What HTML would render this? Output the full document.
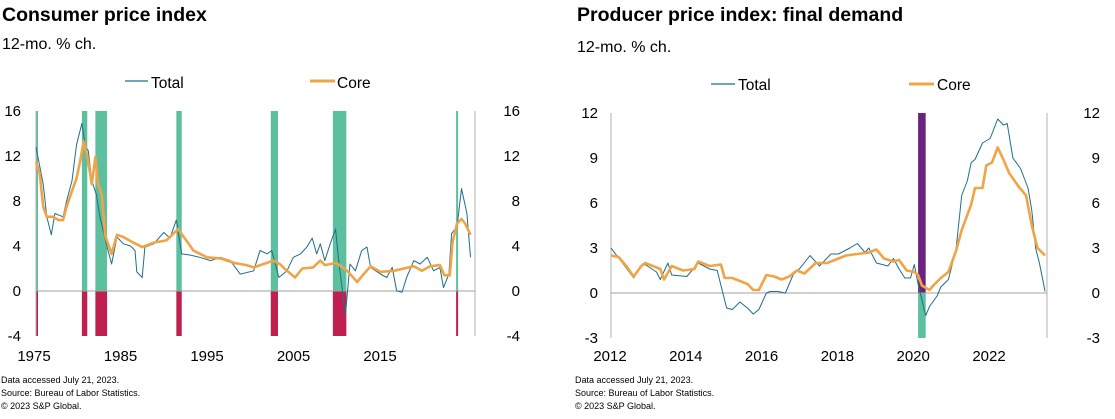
<!DOCTYPE html>
<html><head><meta charset="utf-8"><style>
body{margin:0;background:#fff;width:1115px;height:419px;overflow:hidden}
svg{display:block;font-family:"Liberation Sans",Arial,sans-serif}
</style></head><body>
<svg id="c" width="1115" height="419">
<text x="2" y="21" font-size="19.5" font-weight="bold">Consumer price index</text>
<text x="2" y="49" font-size="16">12-mo. % ch.</text>
<line x1="125" y1="81" x2="148" y2="81" stroke="#1f6e8c" stroke-width="1.2"/>
<text x="151" y="88" font-size="15.5">Total</text>
<line x1="310" y1="81" x2="335" y2="81" stroke="#f0a445" stroke-width="3"/>
<text x="337" y="88" font-size="15.5">Core</text>
<text x="577" y="21" font-size="19.5" font-weight="bold">Producer price index: final demand</text>
<text x="577" y="52" font-size="16">12-mo. % ch.</text>
<line x1="711" y1="84" x2="735" y2="84" stroke="#1f6e8c" stroke-width="1.2"/>
<text x="738" y="90" font-size="15.5">Total</text>
<line x1="909" y1="84" x2="934" y2="84" stroke="#f0a445" stroke-width="3"/>
<text x="937" y="90" font-size="15.5">Core</text>
<g font-size="9">
<text x="1" y="383">Data accessed July 21, 2023.</text>
<text x="1" y="396">Source: Bureau of Labor Statistics.</text>
<text x="1" y="409">© 2023 S&amp;P Global.</text></g>
<g font-size="9">
<text x="575" y="383">Data accessed July 21, 2023.</text>
<text x="575" y="396">Source: Bureau of Labor Statistics.</text>
<text x="575" y="409">© 2023 S&amp;P Global.</text></g>
</svg>
<script>
// ---- CPI data ----
const cpiTotalX=[1975.0,1975.8,1976.2,1976.7,1977.1,1978.0,1978.4,1979.0,1979.5,1980.1,1980.5,1980.8,1981.2,1981.7,1982.1,1982.9,1983.4,1984.0,1984.7,1985.5,1986.0,1986.2,1986.8,1987.1,1988.1,1989.2,1989.9,1990.6,1991.2,1992.1,1993.2,1994.4,1995.5,1996.6,1997.7,1999.2,1999.9,2000.7,2001.2,2002.0,2002.9,2003.6,2004.4,2005.1,2005.7,2006.2,2006.6,2007.1,2007.7,2008.3,2008.6,2009.0,2009.4,2009.9,2010.5,2011.2,2011.8,2012.2,2013.3,2014.0,2014.6,2015.1,2015.7,2016.2,2017.0,2017.7,2018.5,2019.2,2019.9,2020.3,2020.9,2021.2,2021.8,2022.3,2022.9,2023.3];
const cpiTotalY=[12.8,9.5,6.6,5.0,6.9,6.6,8.0,9.8,13.0,14.9,12.8,12.5,9.8,8.6,6.6,3.9,2.4,4.8,4.2,4.0,3.6,1.7,1.2,3.9,4.2,5.2,4.7,6.3,3.3,3.2,3.0,2.7,3.0,2.7,1.5,1.8,3.6,3.3,3.6,1.2,1.8,3.0,3.3,3.9,4.7,3.3,4.2,2.7,4.2,5.5,3.0,0.4,-2.0,2.4,1.8,3.6,3.9,2.1,1.5,1.2,2.1,0.0,-0.1,1.2,2.7,2.4,3.0,1.8,2.1,0.3,1.5,5.1,5.7,9.1,6.9,3.0];
const cpiCoreX=[1975,1975.4,1975.8,1976.2,1976.9,1977.5,1978,1978.4,1979,1979.5,1979.9,1980.3,1980.7,1981.2,1981.6,1981.9,1982.3,1982.7,1983.4,1984.0,1984.7,1985.8,1986.8,1988.1,1989.5,1990.8,1991.8,1992.5,1994.0,1995.5,1997.0,1998.4,1999.2,2000.3,2001.4,2002.1,2002.9,2003.8,2004.6,2005.8,2006.6,2007.1,2008.4,2009.6,2010.7,2011.2,2012.2,2013.3,2014.8,2015.9,2017.0,2017.9,2018.8,2019.9,2020.4,2021.0,2021.3,2021.8,2022.3,2022.7,2023.3];
const cpiCoreY=[11.5,10.5,7.5,6.6,6.6,6.3,6.3,7.5,8.9,10,11.5,13.3,12,9.5,11.9,9.5,8.6,4.9,3.3,5.0,4.8,4.3,3.9,4.3,4.5,5.5,4.4,3.6,3.0,2.9,2.5,2.3,2.1,2.4,2.7,2.4,1.8,1.2,2.0,2.1,2.7,2.3,2.5,1.8,0.8,1.3,2.2,1.7,1.8,2.0,2.2,1.8,2.2,2.3,1.4,1.4,4.3,6.0,6.4,6.0,5.0];
const cpiRecStart=[1975.0,1980.1,1981.6,1990.6,2001.1,2008.0,2021.7];
const cpiRecEnd=[1975.2,1980.7,1982.9,1991.2,2001.9,2009.5,2021.9];
const cpiYTicks=[-4,0,4,8,12,16];
const cpiXLabels=[1975,1985,1995,2005,2015];
// ---- PPI data ----
const ppiTotalX=[2012.0,2012.3,2012.6,2012.8,2012.9,2013.2,2013.3,2013.5,2013.6,2014.0,2014.3,2014.6,2014.8,2015.05,2015.2,2015.4,2015.6,2015.75,2015.9,2016.1,2016.2,2016.4,2016.6,2016.8,2017.0,2017.25,2017.5,2017.8,2018.0,2018.3,2018.5,2018.7,2018.8,2019.0,2019.3,2019.45,2019.6,2019.75,2019.9,2020.0,2020.1,2020.3,2020.4,2020.6,2020.7,2020.9,2021.1,2021.25,2021.4,2021.5,2021.6,2021.8,2022.0,2022.2,2022.35,2022.45,2022.6,2022.8,2023.0,2023.1,2023.2,2023.3,2023.45];
const ppiTotalY=[3.0,2.0,1.0,1.8,1.9,1.4,0.9,2.0,1.2,1.1,2.0,1.6,1.5,-1.0,-1.1,-0.6,-1.0,-1.4,-1.1,0.0,0.1,0.1,0.0,1.2,1.7,2.5,1.8,2.6,2.6,3.0,3.3,2.7,3.0,2.0,1.8,2.3,1.6,1.0,1.0,1.9,0.6,-1.5,-0.9,-0.2,0.4,0.9,2.9,6.5,7.5,8.7,8.9,10.0,10.3,11.6,11.2,11.3,9.0,8.3,7.0,5.5,3.0,2.0,0.1];
const ppiCoreX=[2012.0,2012.2,2012.4,2012.6,2012.8,2012.9,2013.0,2013.3,2013.4,2013.6,2013.9,2014.2,2014.3,2014.6,2014.9,2015.0,2015.2,2015.4,2015.6,2015.75,2015.9,2016.1,2016.3,2016.5,2016.7,2016.9,2017.1,2017.4,2017.7,2018.0,2018.2,2018.5,2018.8,2019.0,2019.2,2019.45,2019.6,2019.8,2020.0,2020.1,2020.2,2020.4,2020.5,2020.7,2020.9,2021.1,2021.25,2021.5,2021.6,2021.8,2021.9,2022.05,2022.2,2022.35,2022.5,2022.75,2022.95,2023.1,2023.25,2023.45];
const ppiCoreY=[2.5,2.4,1.8,1.1,1.8,2.0,1.9,1.6,0.9,1.8,1.5,1.6,2.1,1.8,1.9,1.0,1.0,0.8,0.6,0.2,0.2,1.2,1.1,0.9,1.1,1.5,1.3,2.0,2.0,2.3,2.5,2.6,2.7,2.9,2.3,2.1,2.2,1.5,1.4,1.2,0.5,0.2,0.5,1.0,1.4,2.8,4.2,5.9,7.0,7.0,8.5,8.7,9.7,8.9,8.0,7.1,6.5,4.5,3.0,2.5];
const ppiRecStart=[2020.1];
const ppiRecEnd=[2020.3];
const ppiYTicks=[-3,0,3,6,9,12];
const ppiXLabels=[2012,2014,2016,2018,2020,2022];

const svg=document.getElementById('c');
const NS='http://www.w3.org/2000/svg';
function mk(tag,attrs,parent){const e=document.createElementNS(NS,tag);for(const k in attrs)e.setAttribute(k,attrs[k]);(parent||svg).appendChild(e);return e;}

function chart(o){
  const g=mk('g',{});
  
  
  const xs=v=>o.x0+(v-o.xmin)/(o.xmax-o.xmin)*(o.x1-o.x0);
  const ys=v=>o.y0+(o.ymax-v)/(o.ymax-o.ymin)*(o.y1-o.y0);
  o.recS.forEach((s,i)=>{
    const a=xs(s),w=Math.max(2,xs(o.recE[i])-a);
    const r1=mk('rect',{x:a,y:ys(o.ymax),width:w,height:ys(0)-ys(o.ymax),fill:o.topCol},g);
    
    
    const r2=mk('rect',{x:a,y:ys(0),width:w,height:ys(o.ymin)-ys(0),fill:o.botCol},g);
    
    
  });
  const ax=mk('line',{x1:o.x0,x2:o.x0,y1:o.y0,y2:o.y1,stroke:'#b0b0b0','stroke-width':1},g);
  
  
  const ax2=mk('line',{x1:o.x1,x2:o.x1,y1:o.y0,y2:o.y1,stroke:'#b0b0b0','stroke-width':1},g);
  
  
  const z=mk('line',{x1:o.x0,x2:o.x1,y1:ys(0),y2:ys(0),stroke:'#a0a0a0','stroke-width':1},g);
  
  
  o.yt.forEach(v=>{
    const t=mk('text',{x:o.lx,y:ys(v)+5,'font-size':15,'text-anchor':'end'},g);t.textContent=v;
    
    
    const t2=mk('text',{x:o.rx,y:ys(v)+5,'font-size':15,'text-anchor':'end'},g);t2.textContent=v;
    
    
  });
  o.xl.forEach(v=>{
    const t=mk('text',{x:o.lab0+(v-o.xl[0])*o.labStep,y:361,'font-size':15,'text-anchor':'middle'},g);t.textContent=v;
    
    
  });
  function line(X,Y,col,w,nm){
    const p=mk('path',{d:X.map((x,i)=>(i?'L':'M')+xs(x).toFixed(1)+','+ys(Y[i]).toFixed(1)).join(''),fill:'none',stroke:col,'stroke-width':w,'stroke-linejoin':'round'},g);
    
    
  }
  line(o.tx,o.ty,'#1f6e8c',1,o.name+'-total-line');
  line(o.cx,o.cy,'#f0a445',2.6,o.name+'-core-line');
}
chart({name:'cpi',x0:36,x1:475,y0:111,y1:336,xmin:1975,xmax:2023.8,ymin:-4,ymax:16,
  recS:cpiRecStart,recE:cpiRecEnd,topCol:'#5cbf9e',botCol:'#c0204f',yt:cpiYTicks,lx:21,rx:520,
  xl:cpiXLabels,lab0:34,labStep:8.65,tx:cpiTotalX,ty:cpiTotalY,cx:cpiCoreX,cy:cpiCoreY});
chart({name:'ppi',x0:611,x1:1047,y0:113,y1:338,xmin:2012,xmax:2023.5,ymin:-3,ymax:12,
  recS:ppiRecStart,recE:ppiRecEnd,topCol:'#6b2380',botCol:'#5cbf9e',yt:ppiYTicks,lx:598,rx:1100,
  xl:ppiXLabels,lab0:610,labStep:37.9,tx:ppiTotalX,ty:ppiTotalY,cx:ppiCoreX,cy:ppiCoreY});
</script>
</body></html>
